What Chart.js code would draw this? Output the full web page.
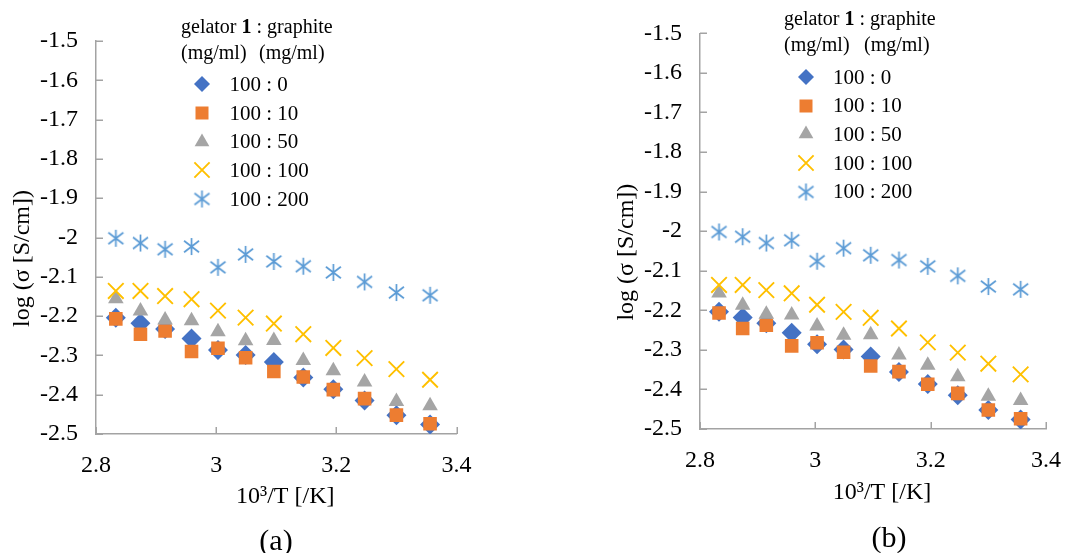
<!DOCTYPE html>
<html>
<head>
<meta charset="utf-8">
<script src="https://cdn.jsdelivr.net/npm/chart.js@4.4.1/dist/chart.umd.min.js"></script>
<style>
  html, body { margin: 0; padding: 0; background: #ffffff; }
  body { width: 1078px; height: 553px; position: relative; overflow: hidden;
         font-family: "Liberation Serif", "Times New Roman", serif; color: #000; }
  .panel { position: absolute; top: 0; width: 539px; height: 553px; }
  .panel canvas.main { position: absolute; left: 0; top: 0; }
  .t { position: absolute; white-space: pre; line-height: 1; }
  .lgt { font-size: 20px; }
  .lgi { font-size: 21px; }
  .mk { position: absolute; }
  .cap { position: absolute; font-size: 30px; line-height: 1; white-space: pre; transform: translate(-50%, -50%); }
</style>
</head>
<body>
<div class="panel" id="panelA" style="left:0px"><canvas class="main" id="chartA" width="539" height="553"></canvas></div>
<div class="panel" id="panelB" style="left:539px"><canvas class="main" id="chartB" width="539" height="553"></canvas></div>
<script>
// ---------------- data ----------------
const xValues   = [2.833, 2.874, 2.915, 2.959, 3.003, 3.049, 3.096, 3.145, 3.195, 3.247, 3.300, 3.356];
const ratio100_0   = [-2.204, -2.218, -2.233, -2.257, -2.286, -2.299, -2.317, -2.356, -2.386, -2.415, -2.452, -2.476];
const ratio100_10  = [-2.207, -2.246, -2.238, -2.290, -2.282, -2.306, -2.341, -2.355, -2.387, -2.410, -2.452, -2.474];
const ratio100_50  = [-2.156, -2.187, -2.210, -2.212, -2.240, -2.263, -2.262, -2.313, -2.339, -2.368, -2.417, -2.428];
const ratio100_100 = [-2.136, -2.136, -2.149, -2.157, -2.186, -2.204, -2.219, -2.246, -2.281, -2.307, -2.335, -2.362];
const ratio100_200 = [-2.002, -2.014, -2.030, -2.023, -2.076, -2.043, -2.061, -2.073, -2.089, -2.113, -2.140, -2.147];
const seriesLabels = ['100 : 0', '100 : 10', '100 : 50', '100 : 100', '100 : 200'];
const xTickValues = [2.8, 3.0, 3.2, 3.4];
const xTickLabels = ['2.8', '3', '3.2', '3.4'];
const yTickValues = [-2.5, -2.4, -2.3, -2.2, -2.1, -2.0, -1.9, -1.8, -1.7, -1.6, -1.5];
const yTickLabels = ['-2.5', '-2.4', '-2.3', '-2.2', '-2.1', '-2', '-1.9', '-1.8', '-1.7', '-1.6', '-1.5'];
const xAxisTitle = '10\u00B3/T [/K]';
const yAxisTitle = 'log (\u03C3 [S/cm])';
const legendTitleLine1 = ['gelator ', '1', ' : graphite'];
const legendUnit = '(mg/ml)';
const panelCaptions = ['(a)', '(b)'];

// ---------------- styles ----------------
const FONT = '"Liberation Serif", "Times New Roman", serif';
const AXIS = '#a3a3a3';
const seriesValues = [ratio100_0, ratio100_10, ratio100_50, ratio100_100, ratio100_200];
const seriesColors = ['#4472C4', '#ED7D31', '#A5A5A5', '#FFC000', '#5B9BD5'];

function makeStar(color) {
  const c = document.createElement('canvas');
  c.width = 19; c.height = 19;
  const g = c.getContext('2d');
  g.strokeStyle = color; g.lineWidth = 1.7; g.lineCap = 'butt';
  g.beginPath();
  g.moveTo(9.5, 1); g.lineTo(9.5, 18);
  g.moveTo(2, 3.8); g.lineTo(17, 15.2);
  g.moveTo(17, 3.8); g.lineTo(2, 15.2);
  g.stroke();
  return c;
}
const starImg = makeStar(seriesColors[4]);

const seriesPoint = [
  { pointStyle: 'rectRot',  radius: 10,   borderWidth: 0 },
  { pointStyle: 'rect',     radius: 9.6,  borderWidth: 0 },
  { pointStyle: 'triangle', radius: 9,    borderWidth: 0 },
  { pointStyle: 'crossRot', radius: 11,   borderWidth: 1.9 },
  { pointStyle: starImg,    radius: 9,    borderWidth: 0 }
];

function buildDatasets() {
  return seriesValues.map((vals, s) => ({
    label: seriesLabels[s],
    data: xValues.map((x, i) => ({ x: x, y: vals[i] })),
    showLine: false,
    pointStyle: seriesPoint[s].pointStyle,
    pointRadius: seriesPoint[s].radius,
    pointBorderWidth: seriesPoint[s].borderWidth,
    backgroundColor: seriesColors[s],
    borderColor: seriesColors[s],
    order: 5 - s
  }));
}

const innerTicks = {
  id: 'innerTicks',
  beforeDatasetsDraw(chart) {
    const ctx = chart.ctx, a = chart.chartArea;
    const xs = chart.scales.x, ys = chart.scales.y;
    ctx.save();
    ctx.strokeStyle = AXIS; ctx.lineWidth = 1.5;
    ctx.beginPath();
    xs.ticks.forEach(t => { const p = Math.round(xs.getPixelForValue(t.value)) + 0.25;
      ctx.moveTo(p, a.bottom); ctx.lineTo(p, a.bottom - 7); });
    ys.ticks.forEach(t => { const p = Math.round(ys.getPixelForValue(t.value)) + 0.25;
      ctx.moveTo(a.left, p); ctx.lineTo(a.left + 7, p); });
    ctx.stroke();
    ctx.restore();
  }
};

function makeChart(canvasId, L) {
  return new Chart(document.getElementById(canvasId), {
    type: 'scatter',
    data: { datasets: buildDatasets() },
    plugins: [innerTicks],
    options: {
      responsive: false,
      animation: false,
      events: [],
      layout: { padding: { left: L.padLeft, right: L.padRight, top: L.padTop, bottom: 0 } },
      plugins: { legend: { display: false }, tooltip: { enabled: false } },
      scales: {
        x: {
          type: 'linear', min: 2.8, max: 3.4,
          afterBuildTicks: s => { s.ticks = xTickValues.map(v => ({ value: v })); },
          afterFit: s => { s.height = L.xAxisH; },
          grid: { display: false, drawTicks: false },
          border: { display: true, color: AXIS, width: 1.5 },
          ticks: { color: '#000', padding: 17, maxRotation: 0, autoSkip: false,
                   font: { family: FONT, size: 24 },
                   callback: (v, i) => xTickLabels[i] },
          title: { display: true, text: '   ' + xAxisTitle, color: '#000',
                   font: { family: FONT, size: 24 }, padding: { top: 0, bottom: L.xTitlePad } }
        },
        y: {
          type: 'linear', min: -2.5, max: -1.5,
          afterBuildTicks: s => { s.ticks = yTickValues.map(v => ({ value: v })); },
          afterFit: s => { s.width = 96; },
          grid: { display: false, drawTicks: false },
          border: { display: true, color: AXIS, width: 1.5 },
          ticks: { color: '#000', padding: 18, autoSkip: false,
                   font: { family: FONT, size: 24 },
                   callback: (v, i) => yTickLabels[i] },
          title: { display: true, text: yAxisTitle + '       ', color: '#000',
                   font: { family: FONT, size: 24 }, padding: { top: 8, bottom: 0 } }
        }
      }
    }
  });
}

// legend marker (HTML canvas) drawn with the same shapes
function drawLegendMarker(s) {
  const c = document.createElement('canvas');
  c.width = 24; c.height = 24; c.className = 'mk';
  const g = c.getContext('2d');
  const cx = 12, cy = 12, col = seriesColors[s];
  g.fillStyle = col; g.strokeStyle = col;
  g.beginPath();
  if (s === 0) { const r = 8; g.moveTo(cx - r, cy); g.lineTo(cx, cy - r); g.lineTo(cx + r, cy); g.lineTo(cx, cy + r); g.closePath(); g.fill(); }
  else if (s === 1) { g.rect(cx - 6.5, cy - 6.5, 13, 13); g.fill(); }
  else if (s === 2) { const r = 8.5; g.moveTo(cx, cy - r); g.lineTo(cx + r * 0.866, cy + r / 2); g.lineTo(cx - r * 0.866, cy + r / 2); g.closePath(); g.fill(); }
  else if (s === 3) { const o = 7.6; g.lineWidth = 1.9; g.moveTo(cx - o, cy - o); g.lineTo(cx + o, cy + o); g.moveTo(cx + o, cy - o); g.lineTo(cx - o, cy + o); g.stroke(); }
  else { g.drawImage(starImg, cx - 9.5, cy - 9.5); }
  return c;
}

function buildLegend(panelId, L) {
  const p = document.getElementById(panelId);
  const t1 = document.createElement('div');
  t1.className = 't lgt';
  t1.style.left = L.lgLeft + 'px'; t1.style.top = (L.lgLine1 - 10) + 'px';
  t1.appendChild(document.createTextNode(legendTitleLine1[0]));
  const b = document.createElement('b'); b.textContent = legendTitleLine1[1]; t1.appendChild(b);
  t1.appendChild(document.createTextNode(legendTitleLine1[2]));
  p.appendChild(t1);
  [L.lgLeft, L.lgUnit2].forEach(x => {
    const u = document.createElement('div');
    u.className = 't lgt'; u.textContent = legendUnit;
    u.style.left = x + 'px'; u.style.top = (L.lgLine2 - 10) + 'px';
    p.appendChild(u);
  });
  seriesLabels.forEach((lab, s) => {
    const cy = L.lgRow0 + s * L.lgRowStep;
    const m = drawLegendMarker(s);
    m.style.left = (L.lgMarkX - 12) + 'px'; m.style.top = (cy - 12) + 'px';
    p.appendChild(m);
    const d = document.createElement('div');
    d.className = 't lgi'; d.textContent = lab;
    d.style.left = L.lgTextX + 'px'; d.style.top = (cy - 10.5) + 'px';
    p.appendChild(d);
  });
  const cap = document.createElement('div');
  cap.className = 'cap'; cap.textContent = L.caption;
  cap.style.left = L.capX + 'px'; cap.style.top = L.capY + 'px';
  p.appendChild(cap);
}

const layoutA = { padLeft: 0, padRight: 82.5, padTop: 41, xAxisH: 119, xTitlePad: 41.6,
  lgLeft: 181, lgUnit2: 259, lgLine1: 25.5, lgLine2: 51.5, lgMarkX: 201.5, lgTextX: 229.5,
  lgRow0: 84.3, lgRowStep: 28.7, caption: panelCaptions[0], capX: 276, capY: 539.5 };
const layoutB = { padLeft: 65, padRight: 18, padTop: 33.3, xAxisH: 124, xTitlePad: 45.6,
  lgLeft: 245, lgUnit2: 325, lgLine1: 18, lgLine2: 44, lgMarkX: 266.7, lgTextX: 294,
  lgRow0: 77, lgRowStep: 28.7, caption: panelCaptions[1], capX: 350, capY: 537 };

makeChart('chartA', layoutA);
makeChart('chartB', layoutB);
buildLegend('panelA', layoutA);
buildLegend('panelB', layoutB);
</script>
</body>
</html>
